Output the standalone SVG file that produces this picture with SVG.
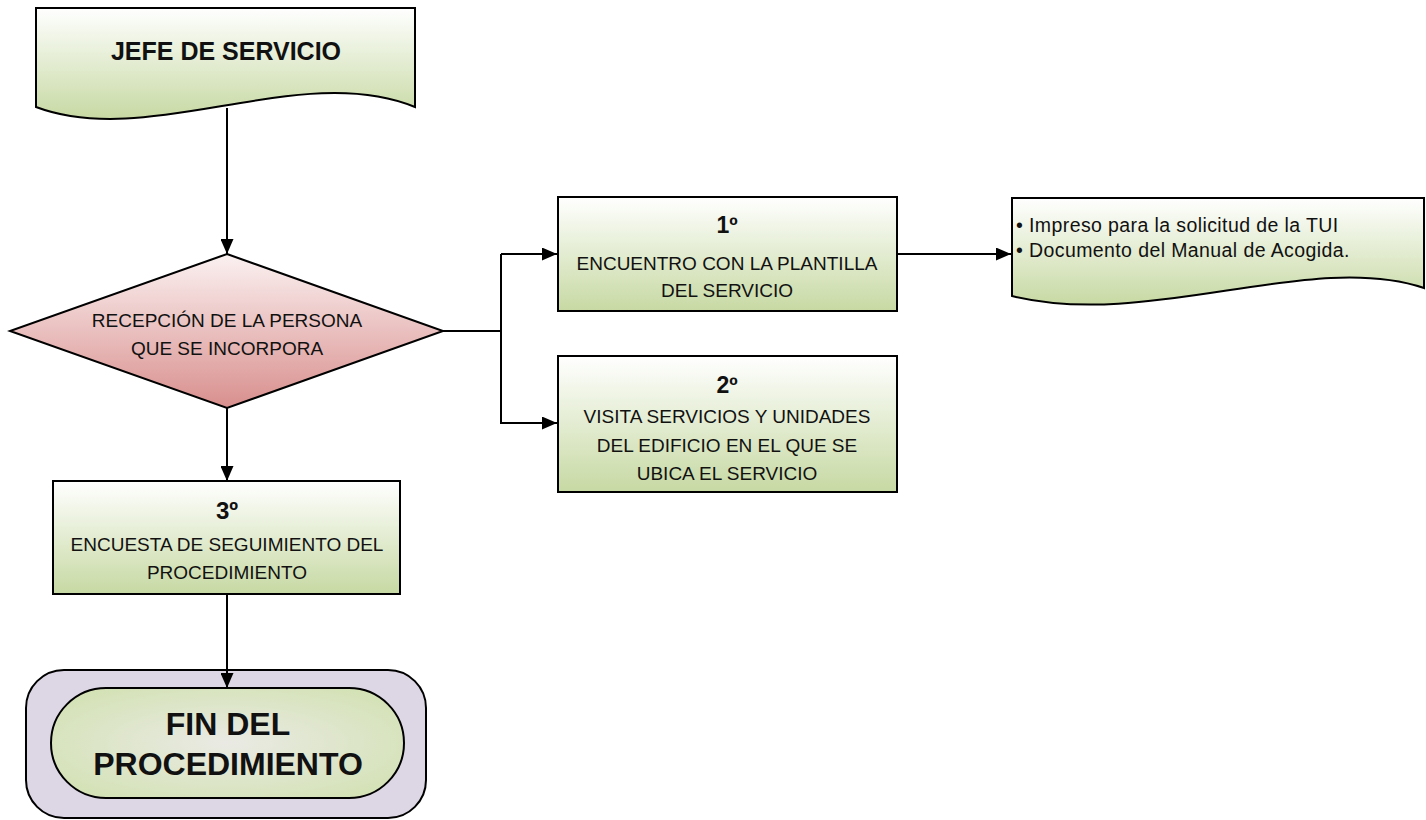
<svg xmlns="http://www.w3.org/2000/svg" width="1426" height="820" viewBox="0 0 1426 820">
<style>
.shape{stroke:#000;stroke-width:2}
.t{font-family:"Liberation Sans",Arial,sans-serif;fill:#111;text-anchor:middle}
.b{font-weight:bold}
.doc{font-family:"Liberation Sans",Arial,sans-serif;font-size:19.5px;fill:#111;letter-spacing:0.4px}
.fin{font-family:"Liberation Sans",Arial,sans-serif;font-weight:bold;font-size:32px;fill:#111;text-anchor:middle}
.conn{stroke:#000;stroke-width:2;fill:none}
</style>
<defs>
<linearGradient id="gG" x1="0" y1="0" x2="0" y2="1">
<stop offset="0" stop-color="#ffffff"/>
<stop offset="1" stop-color="#c7d9a3"/>
</linearGradient>
<linearGradient id="gR" x1="0" y1="0" x2="0" y2="1">
<stop offset="0" stop-color="#fbf1f1"/>
<stop offset="1" stop-color="#d88f8d"/>
</linearGradient>
<radialGradient id="gE" cx="0.5" cy="0.5" r="0.6">
<stop offset="0" stop-color="#eaeae4"/>
<stop offset="1" stop-color="#d4e2b6"/>
</radialGradient>
<marker id="ah" markerWidth="15" markerHeight="13" refX="15" refY="6.5" orient="auto" markerUnits="userSpaceOnUse">
<path d="M0,0 L15,6.5 L0,13 Z" fill="#000"/>
</marker>
</defs>
<g id="jefe">
<path class="shape" fill="url(#gG)" d="M36,8 H415 V107 C300,60 150,150 36,107 Z"/>
<text class="t b" x="226" y="60" font-size="25">JEFE DE SERVICIO</text>
</g>
<g id="recepcion">
<path class="shape" fill="url(#gR)" d="M227,254 L443,331 L227,408 L10,331 Z"/>
<text class="t" x="227" y="327" font-size="19">RECEPCIÓN DE LA PERSONA</text>
<text class="t" x="227" y="355" font-size="19">QUE SE INCORPORA</text>
</g>
<g id="paso1">
<rect class="shape" fill="url(#gG)" x="558" y="197" width="339" height="114"/>
<text class="t b" x="727" y="233" font-size="23">1º</text>
<text class="t" x="727" y="270" font-size="19">ENCUENTRO CON LA PLANTILLA</text>
<text class="t" x="727" y="297" font-size="19">DEL SERVICIO</text>
</g>
<g id="documentos">
<path class="shape" fill="url(#gG)" d="M1012,198 H1424 V288 C1310,250 1150,330 1012,296 Z"/>
<text class="doc" x="1016" y="232">• Impreso para la solicitud de la TUI</text>
<text class="doc" x="1016" y="257">• Documento del Manual de Acogida.</text>
</g>
<g id="paso2">
<rect class="shape" fill="url(#gG)" x="558" y="356" width="339" height="136"/>
<text class="t b" x="727" y="393" font-size="23">2º</text>
<text class="t" x="727" y="423" font-size="19">VISITA SERVICIOS Y UNIDADES</text>
<text class="t" x="727" y="452" font-size="19">DEL EDIFICIO EN EL QUE SE</text>
<text class="t" x="727" y="480" font-size="19">UBICA EL SERVICIO</text>
</g>
<g id="paso3">
<rect class="shape" fill="url(#gG)" x="53" y="481" width="347" height="113"/>
<text class="t b" x="227" y="519" font-size="24">3º</text>
<text class="t" x="227" y="551" font-size="19">ENCUESTA DE SEGUIMIENTO DEL</text>
<text class="t" x="227" y="579" font-size="19">PROCEDIMIENTO</text>
</g>
<g id="fin">
<rect class="shape" fill="#ddd6e5" x="26" y="670" width="400" height="148" rx="38" ry="38"/>
<rect class="shape" fill="url(#gE)" x="51" y="688" width="353" height="110" rx="55" ry="55"/>
<text class="fin" x="228" y="735">FIN DEL</text>
<text class="fin" x="228" y="775">PROCEDIMIENTO</text>
</g>
<g id="connectors">
<line class="conn" x1="227" y1="108" x2="227" y2="254" marker-end="url(#ah)"/>
<polyline class="conn" points="443,331 501,331"/>
<polyline class="conn" points="501,254 501,423 557,423" marker-end="url(#ah)"/>
<line class="conn" x1="501" y1="254" x2="557" y2="254" marker-end="url(#ah)"/>
<line class="conn" x1="897" y1="254" x2="1011" y2="254" marker-end="url(#ah)"/>
<line class="conn" x1="227" y1="408" x2="227" y2="481" marker-end="url(#ah)"/>
<line class="conn" x1="227" y1="594" x2="227" y2="688" marker-end="url(#ah)"/>
</g>
</svg>
